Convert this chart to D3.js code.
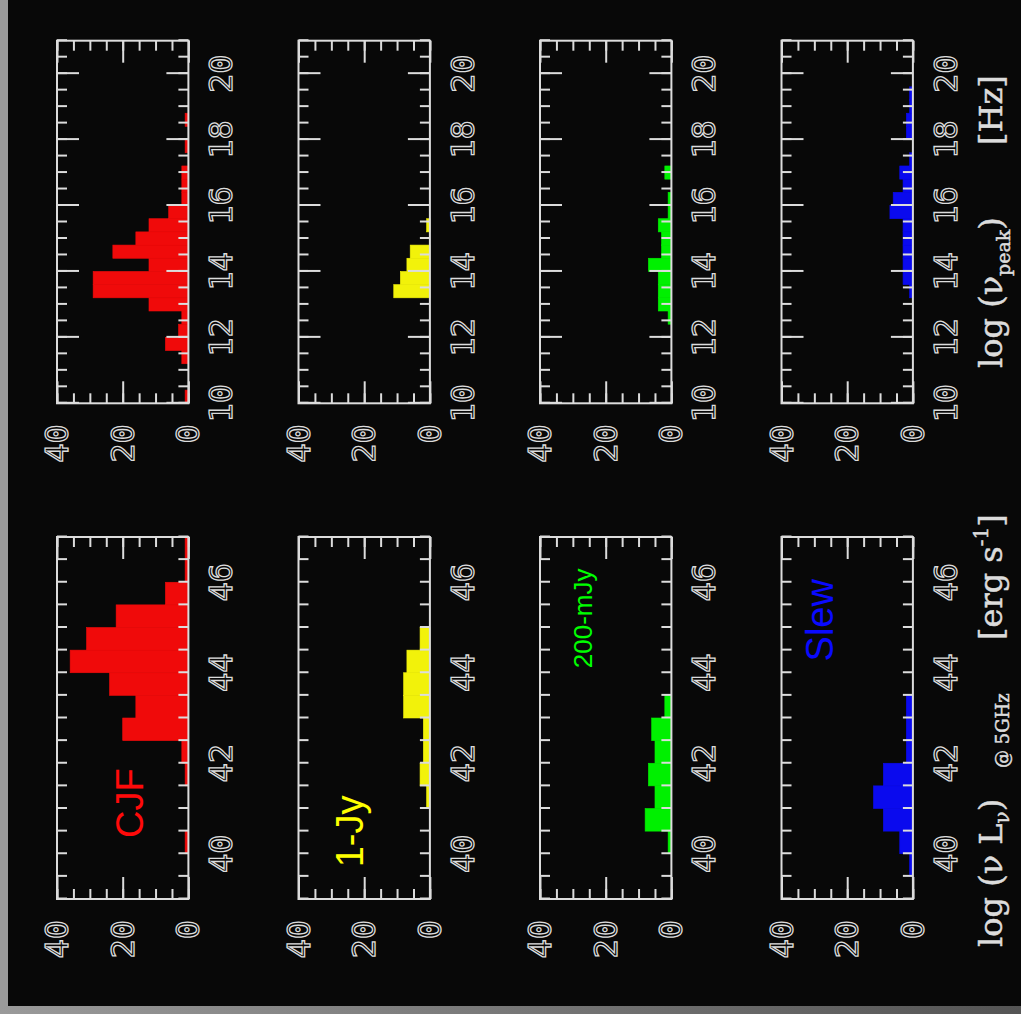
<!DOCTYPE html>
<html>
<head>
<meta charset="utf-8">
<script src="https://cdn.jsdelivr.net/npm/d3@7"></script>
<style>
  html, body { margin: 0; padding: 0; background: #080808; }
  svg { display: block; }
</style>
</head>
<body>
<div id="chart"></div>
<script>
// samples, from the left edge of the picture to the right
const samples = ["CJF", "1-Jy", "200-mJy", "Slew"];

// log(nu L_nu) at 5 GHz, bins of 0.5 starting at 39
const lumStart = 39, lumStep = 0.5;
const lumCJF  = [0, 0, 1, 0, 0, 1, 2, 20, 16, 24, 36, 31, 22, 7, 1, 1];
const lum1Jy  = [0, 0, 0, 0, 1, 3, 2, 2, 8, 8, 7, 3, 0, 0, 0, 0];
const lum200  = [0, 0, 1, 8, 5, 7, 5, 6, 2, 0, 0, 0, 0, 0, 0, 0];
const lumSlew = [0, 1, 4, 9, 12, 9, 2, 2, 2, 0, 0, 0, 0, 0, 0, 0];

// log(nu_peak), bins of 0.4 starting at 10
const nuStart = 10, nuStep = 0.4;
const nuCJF  = [1, 0, 0, 2, 7, 3, 2, 12, 29, 29, 12, 23, 16, 12, 6, 2, 2, 2, 0, 1, 0, 1, 0, 0, 0, 0, 0, 0];
const nu1Jy  = [0, 0, 0, 0, 0, 0, 0, 0, 11, 9, 7, 6, 0, 1, 0, 0, 0, 0, 0, 0, 0, 0, 0, 0, 0, 0, 0, 0];
const nu200  = [0, 0, 0, 0, 0, 0, 1, 4, 4, 4, 7, 3, 3, 4, 1, 1, 0, 2, 0, 0, 0, 0, 0, 0, 0, 0, 0, 0];
const nuSlew = [0, 0, 0, 0, 0, 0, 0, 0, 1, 3, 3, 3, 3, 3, 7, 6, 3, 4, 1, 0, 2, 2, 1, 1, 0, 0, 0, 0];

// axis ranges and tick labels
const lumDomain = [39, 47];
const nuDomain = [10, 21];
const countDomain = [0, 40];
const lumLabels = [40, 42, 44, 46];
const nuLabels = [10, 12, 14, 16, 18, 20];
const countLabels = [40, 20, 0];

// sample name written inside each luminosity panel, at [log L, count]
const sampleLabelAt = [[40.35, 13.8], [39.7, 20.3], [44.1, 24.2], [44.25, 24.4]];

const lumSeries = [lumCJF, lum1Jy, lum200, lumSlew];
const nuSeries = [nuCJF, nu1Jy, nu200, nuSlew];

const colors = ["#f00a0a", "#f2f20a", "#00f000", "#0a0aee"];
const textColors = ["#ff0a0a", "#ffff00", "#00ff00", "#0a0aff"];
const labelSizes = [38, 38, 26, 38];
const ink = "#dcdcdc";

const W = 1021, H = 1014;

const svg = d3.select("#chart").append("svg")
  .attr("width", W)
  .attr("height", H);

const defs = svg.append("defs");
const grad = defs.append("linearGradient").attr("id", "edge");
grad.append("stop").attr("offset", "0%").attr("stop-color", "#9a9a9a");
grad.append("stop").attr("offset", "100%").attr("stop-color", "#555");

svg.append("rect").attr("width", W).attr("height", H).attr("fill", "#080808");
svg.append("rect").attr("x", 0).attr("y", 0).attr("width", 8).attr("height", H).attr("fill", "#9a9a9a");
svg.append("rect").attr("x", 0).attr("y", 1006).attr("width", W).attr("height", H - 1006).attr("fill", "url(#edge)");

// the figure is laid out landscape and turned a quarter turn counter-clockwise
const fig = svg.append("g").attr("transform", `translate(0,${H}) rotate(-90)`);

const xLum = d3.scaleLinear().domain(lumDomain).range([115, 477]);
const xNu = d3.scaleLinear().domain(nuDomain).range([610.7, 973.3]);

const rowTop = i => 57 + i * 241.5;
const rowH = 131.4;

const labelFont = "'DejaVu Sans Mono', monospace";
const titleFont = "'DejaVu Serif', serif";

function minorTicks(domain, step) {
  return d3.range(domain[0], domain[1] + 1e-9, step);
}

function panel(i, x, counts, start, step, domain, labels) {
  const top = rowTop(i), bottom = top + rowH;
  const y = d3.scaleLinear().domain(countDomain).range([bottom, top]);
  const g = fig.append("g");

  // histogram
  g.selectAll("rect.bar")
    .data(counts.map((c, k) => ({ lo: start + k * step, hi: start + (k + 1) * step, c })).filter(d => d.c > 0))
    .enter().append("rect")
    .attr("class", "bar")
    .attr("x", d => x(Math.max(d.lo, domain[0])))
    .attr("width", d => x(Math.min(d.hi, domain[1])) - x(Math.max(d.lo, domain[0])))
    .attr("y", d => y(d.c))
    .attr("height", d => y(0) - y(d.c))
    .attr("fill", colors[i])
    .attr("stroke", colors[i])
    .attr("stroke-width", 0.6);

  const xMinor = minorTicks(domain, 0.5);
  const xMajor = minorTicks(domain, 2).filter(v => v % 2 === 0);
  const yMinor = d3.range(0, 41, 5);
  const yMajor = [0, 20, 40];

  const axes = [
    [d3.axisBottom(x), `translate(0,${bottom})`, xMinor, xMajor],
    [d3.axisTop(x), `translate(0,${top})`, xMinor, xMajor],
    [d3.axisLeft(y), `translate(${x.range()[0]},0)`, yMinor, yMajor],
    [d3.axisRight(y), `translate(${x.range()[1]},0)`, yMinor, yMajor]
  ];
  axes.forEach(([ax, tr, mn, mj]) => {
    [[mn, 10], [mj, 22]].forEach(([vals, len]) => {
      const a = g.append("g").attr("transform", tr)
        .call(ax.tickValues(vals).tickSize(-len).tickFormat(""));
      a.select(".domain").remove();
      a.selectAll("line").attr("stroke", ink).attr("stroke-width", 2);
    });
  });

  // frame
  g.append("rect")
    .attr("x", x.range()[0]).attr("y", top)
    .attr("width", x.range()[1] - x.range()[0]).attr("height", rowH)
    .attr("fill", "none").attr("stroke", ink).attr("stroke-width", 2);

  // value labels under the frame
  g.selectAll("text.xl").data(labels).enter().append("text")
    .attr("class", "xl")
    .attr("x", d => x(d)).attr("y", bottom + 44)
    .attr("text-anchor", "middle")
    .style("font-family", labelFont).style("font-size", "32px")
    .attr("fill", "none").attr("stroke", ink).attr("stroke-width", 1.3)
    .text(d => d);

  // count labels left of the frame
  g.selectAll("text.yl").data(countLabels).enter().append("text")
    .attr("class", "yl")
    .attr("x", x.range()[0] - 21).attr("y", d => y(d) + 11)
    .attr("text-anchor", "end")
    .style("font-family", labelFont).style("font-size", "32px")
    .attr("fill", "none").attr("stroke", ink).attr("stroke-width", 1.3)
    .text(d => d);

  return { g, y };
}

samples.forEach((name, i) => {
  const p = panel(i, xLum, lumSeries[i], lumStart, lumStep, lumDomain, lumLabels);
  panel(i, xNu, nuSeries[i], nuStart, nuStep, nuDomain, nuLabels);
  const at = sampleLabelAt[i];
  p.g.append("text")
    .attr("x", xLum(at[0])).attr("y", p.y(at[1]))
    .style("font-family", "'Liberation Sans', Arial, sans-serif")
    .style("font-size", labelSizes[i] + "px")
    .attr("fill", textColors[i])
    .text(name);
});

// axis titles along the far edge
const tBase = 1002;
const titleText = (x, y, size) => fig.append("text").attr("x", x).attr("y", y)
  .style("font-family", titleFont).style("font-size", size + "px")
  .attr("fill", ink).attr("stroke", ink).attr("stroke-width", 0.5);

const t1 = titleText(67, tBase, 32);
t1.append("tspan").text("log (\u03bd L");
t1.append("tspan").attr("dy", 7).style("font-size", "20px").text("\u03bd");
t1.append("tspan").attr("dy", -7).text(")");

titleText(246, tBase + 7, 18).text("@ 5GHz");

const t2 = titleText(374, tBase, 32);
t2.append("tspan").text("[erg s");
t2.append("tspan").attr("dy", -14).style("font-size", "20px").text("-1");
t2.append("tspan").attr("dy", 14).text("]");

const t3 = titleText(646, tBase, 32);
t3.append("tspan").text("log (\u03bd");
t3.append("tspan").attr("dy", 8).style("font-size", "19px").text("peak");
t3.append("tspan").attr("dy", -8).text(")");

titleText(869, tBase, 32).text("[Hz]");
</script>
</body>
</html>
